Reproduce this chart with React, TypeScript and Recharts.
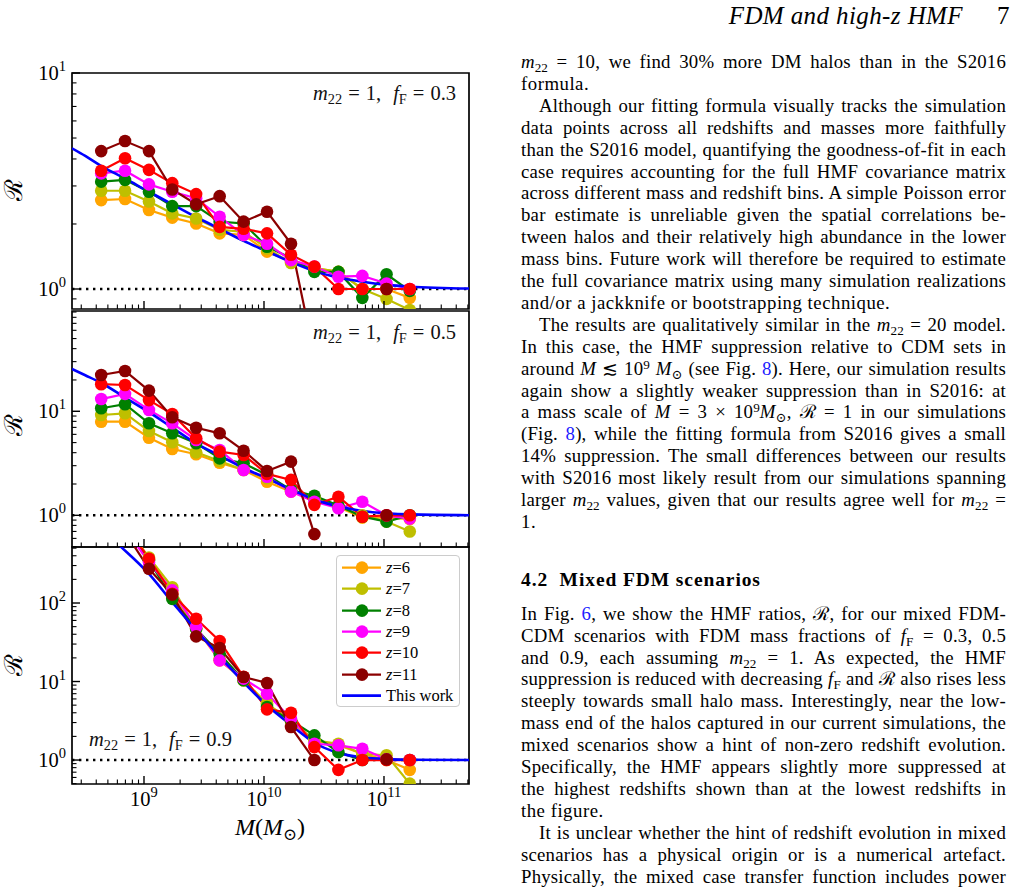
import React from 'react';
import { LineChart, Line, XAxis, YAxis, ReferenceLine, ReferenceArea, Legend } from 'recharts';

// ---------- data ----------
const massBins = [4.4e8, 6.95e8, 1.1e9, 1.72e9, 2.72e9, 4.27e9, 6.76e9, 1.06e10, 1.68e10, 2.63e10, 4.17e10, 6.6e10, 1.05e11, 1.64e11];
const redshiftLabels = ['6', '7', '8', '9', '10', '11'];
const redshiftColors = ['#ffa500', '#bfbf00', '#008000', '#ff00ff', '#ff0000', '#8b0000'];

// m22 = 1, fF = 0.3
const f03z6 = [2.58, 2.61, 2.32, 2.14, 2.01, 1.81, 1.78, 1.49, 1.34, 1.25, 1.2, 1.0, 1.0, 0.91];
const f03z7 = [2.85, 2.85, 2.54, 2.24, 2.12, 1.88, 1.84, 1.54, 1.32, 1.25, 1.2, 1.0, 0.9, 0.8];
const f03z8 = [3.14, 3.2, 2.82, 2.42, 2.42, 2.05, 2.01, 1.57, 1.39, 1.2, 1.2, 0.91, 1.17, 0.98];
const f03z9 = [3.43, 3.53, 3.05, 2.82, 2.63, 2.16, 1.78, 1.62, 1.36, 1.27, 1.14, 1.15, 1.06, 1.0];
const f03z10 = [3.53, 4.03, 3.56, 3.09, 2.75, 1.94, 1.9, 1.81, 1.44, 1.27, 1.0, 1.0, 1.0, 1.0];
const f03z11 = [4.35, 4.84, 4.35, 2.89, 2.47, 2.69, 2.05, 2.28, 1.62, 0.49, null, null, 1.0, null];
const f03FitMass = [2.51e8, 3.24e8, 4.37e8, 6.92e8, 1.1e9, 1.74e9, 2.69e9, 4.27e9, 6.76e9, 1.07e10, 1.7e10, 2.63e10, 4.17e10, 6.61e10, 1.05e11, 1.66e11, 5.13e11];
const f03Fit = [4.48, 4.13, 3.72, 3.25, 2.82, 2.46, 2.16, 1.9, 1.67, 1.49, 1.33, 1.21, 1.13, 1.08, 1.045, 1.025, 1.005];

// m22 = 1, fF = 0.5
const f05z6 = [7.94, 7.94, 5.57, 4.34, 3.86, 3.2, 2.73, 2.1, 1.69, 1.5, 1.2, 0.95, 0.95, 0.92];
const f05z7 = [9.21, 9.56, 6.46, 5.03, 4.03, 3.33, 2.73, 2.27, 1.75, 1.46, 1.2, 1.0, 0.87, 0.7];
const f05z8 = [10.7, 11.7, 7.66, 6.14, 4.92, 3.53, 3.16, 2.44, 1.75, 1.54, 1.24, 0.97, 0.87, 1.0];
const f05z9 = [13.1, 14.7, 10.3, 7.66, 5.3, 4.25, 2.73, 2.35, 1.69, 1.35, 1.17, 1.35, 1.0, 0.93];
const f05z10 = [18.2, 17.9, 12.8, 9.4, 5.5, 4.09, 3.8, 2.5, 2.19, 1.26, 1.51, 0.97, 1.0, 1.0];
const f05z11 = [22.3, 24.4, 15.8, 8.75, 6.95, 6.14, 4.18, 2.67, 3.28, 0.66, null, null, 1.0, null];
const f05FitMass = [2.51e8, 3.24e8, 4.37e8, 6.92e8, 1.1e9, 1.74e9, 2.69e9, 4.27e9, 6.76e9, 1.07e10, 1.7e10, 2.63e10, 4.17e10, 6.61e10, 1.05e11, 1.66e11, 5.13e11];
const f05Fit = [25.5, 22.2, 18.8, 13.6, 9.8, 6.9, 4.95, 3.75, 2.85, 2.25, 1.76, 1.42, 1.22, 1.1, 1.045, 1.02, 1.003];

// m22 = 1, fF = 0.9
const f09z6 = [2600, 950, 360, 138, 47, 18.6, 10.4, 5.2, 3.05, 1.78, 1.54, 1.2, 1.0, 0.75];
const f09z7 = [2800, 1000, 380, 159, 47, 19.5, 10.4, 5.2, 3.2, 1.78, 1.61, 1.2, 1.15, 0.5];
const f09z8 = [2500, 900, 350, 113, 47, 22.6, 10.4, 4.73, 3.2, 2.06, 1.26, 1.0, 1.02, 1.0];
const f09z9 = [2400, 880, 331, 145, 49.4, 18.6, 10.9, 7.0, 3.36, 1.61, 1.54, 1.39, 1.02, 1.0];
const f09z10 = [2900, 1000, 367, 131, 63, 32.8, 11.5, 4.42, 4.0, 1.46, 0.75, 1.0, 1.0, 1.0];
const f09z11 = [2200, 800, 273, 128, 37.6, 26.7, 11.4, 9.57, 2.63, 1.0, null, null, 1.02, null];
const f09FitMass = [3.98e8, 6.46e8, 1.1e9, 1.74e9, 2.69e9, 4.27e9, 6.76e9, 1.07e10, 1.7e10, 2.63e10, 4.17e10, 6.61e10, 1.05e11, 1.66e11, 5.13e11];
const f09Fit = [1000, 516, 235, 100, 46, 20.9, 9.77, 4.9, 2.75, 1.66, 1.23, 1.084, 1.028, 1.009, 1.0];

// ticks
const xTicks = [3e8, 4e8, 5e8, 6e8, 7e8, 8e8, 9e8, 1e9, 2e9, 3e9, 4e9, 5e9, 6e9, 7e9, 8e9, 9e9, 1e10, 2e10, 3e10, 4e10, 5e10, 6e10, 7e10, 8e10, 9e10, 1e11, 2e11, 3e11, 4e11, 5e11];
const yTicksF03 = [0.9, 1, 2, 3, 4, 5, 6, 7, 8, 9, 10];
const yTicksF05 = [0.5, 0.6, 0.7, 0.8, 0.9, 1, 2, 3, 4, 5, 6, 7, 8, 9, 10, 20, 30, 40, 50, 60, 70, 80, 90];
const yTicksF09 = [0.5, 0.6, 0.7, 0.8, 0.9, 1, 2, 3, 4, 5, 6, 7, 8, 9, 10, 20, 30, 40, 50, 60, 70, 80, 90, 100, 200, 300, 400, 500];

const X_DOMAIN: [number, number] = [2.512e8, 5.11e11];

// ---------- helpers ----------
const SERIF = '"Liberation Serif", "DejaVu Serif", serif';

const toPoints = (xs: number[], vs: (number | null)[]) => vs.map((r, i) => ({ m: xs[i], r }));

const isMajor = (v: number) => {
  const lg = Math.log10(v);
  return Math.abs(lg - Math.round(lg)) < 1e-6;
};

const YTick = (props: any) => {
  const { x, y, payload } = props;
  const v = payload.value;
  const major = isMajor(v);
  const len = major ? 8 : 4.5;
  return (
    <g>
      <line x1={x} x2={x + len} y1={y} y2={y} stroke="#000" strokeWidth={major ? 1.4 : 1.1} />
      {major && (
        <text x={x - 6} y={y + 7} textAnchor="end" fontFamily={SERIF} fontSize={20.5} fill="#000" stroke="none">
          10<tspan dy={-9} fontSize={14.5}>{Math.round(Math.log10(v))}</tspan>
        </text>
      )}
    </g>
  );
};

const XTick = (props: any) => {
  const { x, y, payload, showLabel } = props;
  const v = payload.value;
  const major = isMajor(v);
  const len = major ? 8 : 4.5;
  return (
    <g>
      <line x1={x} x2={x} y1={y} y2={y - len} stroke="#000" strokeWidth={major ? 1.4 : 1.1} />
      {major && showLabel && (
        <text x={x} y={y + 22} textAnchor="middle" fontFamily={SERIF} fontSize={20.5} fill="#000" stroke="none">
          10<tspan dy={-9} fontSize={14.5}>{Math.round(Math.log10(v))}</tspan>
        </text>
      )}
    </g>
  );
};

const LegendBox = () => {
  const rowH = 21.3;
  return (
    <div
      style={{
        position: 'relative',
        width: 124,
        height: 152,
        boxSizing: 'border-box',
        border: '1.3px solid #cccccc',
        borderRadius: 4,
        background: 'rgba(255,255,255,0.85)',
        fontFamily: SERIF,
        fontSize: 16.5,
        color: '#000',
      }}
    >
      {redshiftLabels.map((z, i) => (
        <div key={z} style={{ position: 'absolute', left: 0, top: 1 + rowH * i, height: rowH, width: 122 }}>
          <svg width={44} height={rowH} style={{ position: 'absolute', left: 4, top: 0 }}>
            <line x1={1} x2={40} y1={rowH / 2} y2={rowH / 2} stroke={redshiftColors[i]} strokeWidth={2.2} />
            <circle cx={21} cy={rowH / 2} r={6.3} fill={redshiftColors[i]} />
          </svg>
          <div style={{ position: 'absolute', left: 49, top: 0, lineHeight: `${rowH}px` }}>
            <i>z</i>={z}
          </div>
        </div>
      ))}
      <div style={{ position: 'absolute', left: 0, top: 1 + rowH * 6, height: rowH, width: 122 }}>
        <svg width={44} height={rowH} style={{ position: 'absolute', left: 4, top: 0 }}>
          <line x1={1} x2={40} y1={rowH / 2} y2={rowH / 2} stroke="#0000ff" strokeWidth={2.6} />
        </svg>
        <div style={{ position: 'absolute', left: 49, top: 0, lineHeight: `${rowH}px` }}>This work</div>
      </div>
    </div>
  );
};

type PanelProps = {
  plotTop: number;
  plotH: number;
  yDomain: [number, number];
  yTicks: number[];
  series: (number | null)[][];
  fitMass: number[];
  fit: number[];
  showXLabels?: boolean;
  legend?: boolean;
};

const Panel = ({ plotTop, plotH, yDomain, yTicks, series, fitMass, fit, showXLabels, legend }: PanelProps) => {
  const mt = 20;
  const xh = showXLabels ? 60 : 10;
  const chartTop = plotTop - mt;
  return (
    <div style={{ position: 'absolute', left: 0, top: chartTop }}>
      <LineChart width={480} height={plotH + mt + xh} margin={{ top: mt, right: 11, bottom: 0, left: 0 }}>
        <XAxis
          dataKey="m"
          type="number"
          scale="log"
          domain={X_DOMAIN}
          allowDataOverflow
          ticks={xTicks}
          interval={0}
          tickLine={false}
          axisLine={false}
          tickSize={0}
          tickMargin={0}
          height={xh}
          tick={(p: any) => <XTick {...p} showLabel={!!showXLabels} />}
        />
        <YAxis
          type="number"
          scale="log"
          domain={yDomain}
          allowDataOverflow
          ticks={yTicks}
          interval={0}
          tickLine={false}
          axisLine={false}
          tickSize={0}
          tickMargin={0}
          width={72}
          tick={(p: any) => <YTick {...p} />}
        />
        <ReferenceLine y={1} stroke="#000" strokeWidth={2.4} strokeDasharray="2.4 4.6" />
        {series.map((vals, k) => (
          <Line
            key={redshiftLabels[k]}
            data={toPoints(massBins, vals)}
            dataKey="r"
            type="linear"
            stroke={redshiftColors[k]}
            strokeWidth={2.2}
            dot={{ r: 6.3, fill: redshiftColors[k], stroke: redshiftColors[k], strokeWidth: 0 }}
            activeDot={false}
            isAnimationActive={false}
          />
        ))}
        <Line
          data={toPoints(fitMass, fit)}
          dataKey="r"
          type="monotone"
          stroke="#0000ff"
          strokeWidth={2.6}
          dot={false}
          activeDot={false}
          isAnimationActive={false}
        />
        <ReferenceArea
          x1={X_DOMAIN[0]}
          x2={X_DOMAIN[1]}
          y1={yDomain[0]}
          y2={yDomain[1]}
          fill="none"
          stroke="#000"
          strokeWidth={1.7}
          ifOverflow="visible"
        />
        {legend && (
          <Legend
            layout="vertical"
            align="center"
            verticalAlign="middle"
            wrapperStyle={{ left: 336, top: 555 - chartTop, width: 124, height: 152 }}
            content={() => <LegendBox />}
          />
        )}
      </LineChart>
    </div>
  );
};

// ---------- text helpers ----------
const subSt: React.CSSProperties = { fontSize: '70%', verticalAlign: '-0.28em', lineHeight: 0, letterSpacing: 0 };
const supSt: React.CSSProperties = { fontSize: '70%', verticalAlign: '0.45em', lineHeight: 0, letterSpacing: 0 };
const M22 = () => (
  <>
    <i>m</i>
    <span style={subSt}>22</span>
  </>
);
const FF = () => (
  <>
    <i>f</i>
    <span style={subSt}>F</span>
  </>
);
const Lk = ({ c }: { c: string }) => <span style={{ color: '#2020ff' }}>{c}</span>;
const Msun = () => (
  <>
    <i>M</i>
    <span style={subSt}>⊙</span>
  </>
);

type TL = { c: React.ReactNode; indent?: boolean; last?: boolean };
const block1: TL[] = [
  { c: <><M22 /> = 10, we find 30% more DM halos than in the S2016</> },
  { c: <>formula.</>, last: true },
  { c: <>Although our fitting formula visually tracks the simulation</>, indent: true },
  { c: <>data points across all redshifts and masses more faithfully</> },
  { c: <>than the S2016 model, quantifying the goodness-of-fit in each</> },
  { c: <>case requires accounting for the full HMF covariance matrix</> },
  { c: <>across different mass and redshift bins. A simple Poisson error</> },
  { c: <>bar estimate is unreliable given the spatial correlations be-</> },
  { c: <>tween halos and their relatively high abundance in the lower</> },
  { c: <>mass bins. Future work will therefore be required to estimate</> },
  { c: <>the full covariance matrix using many simulation realizations</> },
  { c: <>and/or a jackknife or bootstrapping technique.</>, last: true },
  { c: <>The results are qualitatively similar in the <M22 /> = 20 model.</>, indent: true },
  { c: <>In this case, the HMF suppression relative to CDM sets in</> },
  { c: <>around <i>M</i> ≲ 10<span style={supSt}>9</span> <Msun /> (see Fig. <Lk c="8" />). Here, our simulation results</> },
  { c: <>again show a slightly weaker suppression than in S2016: at</> },
  { c: <>a mass scale of <i>M</i> = 3 × 10<span style={supSt}>9</span><Msun />, ℛ = 1 in our simulations</> },
  { c: <>(Fig. <Lk c="8" />), while the fitting formula from S2016 gives a small</> },
  { c: <>14% suppression. The small differences between our results</> },
  { c: <>with S2016 most likely result from our simulations spanning</> },
  { c: <>larger <M22 /> values, given that our results agree well for <M22 /> =</> },
  { c: <>1.</>, last: true },
];
const block2: TL[] = [
  { c: <>In Fig. <Lk c="6" />, we show the HMF ratios, ℛ, for our mixed FDM-</> },
  { c: <>CDM scenarios with FDM mass fractions of <FF /> = 0.3, 0.5</> },
  { c: <>and 0.9, each assuming <M22 /> = 1. As expected, the HMF</> },
  { c: <>suppression is reduced with decreasing <FF /> and ℛ also rises less</> },
  { c: <>steeply towards small halo mass. Interestingly, near the low-</> },
  { c: <>mass end of the halos captured in our current simulations, the</> },
  { c: <>mixed scenarios show a hint of non-zero redshift evolution.</> },
  { c: <>Specifically, the HMF appears slightly more suppressed at</> },
  { c: <>the highest redshifts shown than at the lowest redshifts in</> },
  { c: <>the figure.</>, last: true },
  { c: <>It is unclear whether the hint of redshift evolution in mixed</>, indent: true },
  { c: <>scenarios has a physical origin or is a numerical artefact.</> },
  { c: <>Physically, the mixed case transfer function includes power</> },
];

const TextLine = ({ l, center }: { l: TL; center: number }) => (
  <div
    style={{
      position: 'absolute',
      left: 521,
      top: center - 14,
      width: 485,
      height: 22,
      lineHeight: '22px',
      boxSizing: 'border-box',
      paddingLeft: l.indent ? 18 : 0,
      fontFamily: SERIF,
      fontSize: 18.8,
      letterSpacing: l.last ? '0.5px' : '0.2px',
      wordSpacing: l.last ? '0px' : '-1.5px',
      color: '#000',
      textAlign: l.last ? 'left' : 'justify',
      textAlignLast: l.last ? 'left' : 'justify',
      whiteSpace: 'nowrap',
    }}
  >
    {l.c}
  </div>
);

const Eq = () => <span style={{ margin: '0 6px' }}>=</span>;

const Annot = ({ label, left, top, align }: { label: string; left: number; top: number; align: 'left' | 'right' }) => (
  <div
    style={{
      position: 'absolute',
      left,
      top,
      width: 220,
      textAlign: align,
      fontFamily: SERIF,
      fontSize: 20.5,
      lineHeight: '20px',
      whiteSpace: 'nowrap',
      color: '#111',
    }}
  >
    <M22 />
    <Eq />
    1,
    <span style={{ display: 'inline-block', width: 12 }} />
    <FF />
    <Eq />
    {label}
  </div>
);

const RLabel = ({ cy }: { cy: number }) => (
  <div
    style={{
      position: 'absolute',
      left: -6,
      top: cy - 15,
      width: 40,
      height: 30,
      lineHeight: '30px',
      textAlign: 'center',
      fontFamily: '"DejaVu Serif", serif',
      fontSize: 25,
      transform: 'rotate(-90deg)',
      color: '#000',
    }}
  >
    ℛ
  </div>
);

export default function App() {
  return (
    <div style={{ position: 'absolute', left: 0, top: 0, width: 1013, height: 894, background: '#fff', overflow: 'hidden' }}>
      <Panel
        plotTop={73}
        plotH={236}
        yDomain={[0.808, 10]}
        yTicks={yTicksF03}
        series={[f03z6, f03z7, f03z8, f03z9, f03z10, f03z11]}
        fitMass={f03FitMass}
        fit={f03Fit}
      />
      <Panel
        plotTop={311}
        plotH={236}
        yDomain={[0.496, 92]}
        yTicks={yTicksF05}
        series={[f05z6, f05z7, f05z8, f05z9, f05z10, f05z11]}
        fitMass={f05FitMass}
        fit={f05Fit}
      />
      <Panel
        plotTop={547}
        plotH={237}
        yDomain={[0.495, 517]}
        yTicks={yTicksF09}
        series={[f09z6, f09z7, f09z8, f09z9, f09z10, f09z11]}
        fitMass={f09FitMass}
        fit={f09Fit}
        showXLabels
        legend
      />

      <Annot label="0.3" left={236} top={83} align="right" />
      <Annot label="0.5" left={236} top={322} align="right" />
      <Annot label="0.9" left={89} top={729} align="left" />

      <RLabel cy={190} />
      <RLabel cy={425} />
      <RLabel cy={665} />

      <div
        style={{
          position: 'absolute',
          left: 170,
          top: 814,
          width: 200,
          textAlign: 'center',
          fontFamily: SERIF,
          fontSize: 24,
          lineHeight: '26px',
          color: '#000',
        }}
      >
        <i>M</i>(<Msun />)
      </div>

      {/* page header */}
      <div
        style={{
          position: 'absolute',
          left: 680,
          top: 1,
          width: 283,
          textAlign: 'right',
          fontFamily: SERIF,
          fontStyle: 'italic',
          fontSize: 25,
          lineHeight: '30px',
          letterSpacing: '0.4px',
          color: '#000',
        }}
      >
        FDM and high-<i>z</i> HMF
      </div>
      <div style={{ position: 'absolute', left: 997, top: 1, fontFamily: SERIF, fontSize: 25, lineHeight: '30px' }}>7</div>

      {block1.map((l, i) => (
        <TextLine key={'a' + i} l={l} center={65 + 21.9 * i} />
      ))}
      <div
        style={{
          position: 'absolute',
          left: 521,
          top: 583 - 14,
          lineHeight: '22px',
          fontFamily: SERIF,
          fontSize: 19.5,
          fontWeight: 'bold',
          letterSpacing: '0.9px',
          whiteSpace: 'nowrap',
        }}
      >
        4.2&nbsp;&nbsp;Mixed FDM scenarios
      </div>
      {block2.map((l, i) => (
        <TextLine key={'b' + i} l={l} center={616.7 + 21.9 * i} />
      ))}
    </div>
  );
}
